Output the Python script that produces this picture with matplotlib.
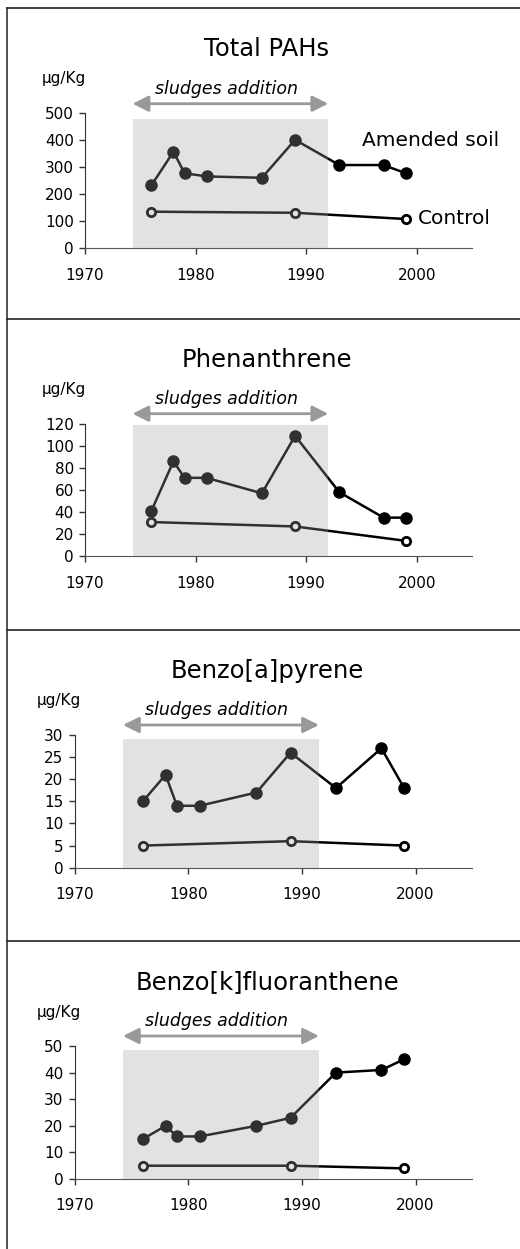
import matplotlib
matplotlib.use("Agg")
import matplotlib.pyplot as plt
from matplotlib.patches import Rectangle
from matplotlib.lines import Line2D

plt.rcParams['font.family'] = ['DejaVu Sans']

W, H = 520, 1249

# data
titles = ['Total PAHs', 'Phenanthrene', 'Benzo[a]pyrene', 'Benzo[k]fluoranthene']
amended_years = [1976, 1978, 1979, 1981, 1986, 1989, 1993, 1997, 1999]
control_years = [1976, 1989, 1999]
amended_vals = [
    [232, 356, 277, 265, 260, 400, 307, 307, 277],
    [41, 86, 71, 71, 57, 109, 58, 35, 35],
    [15, 21, 14, 14, 17, 26, 18, 27, 18],
    [15, 20, 16, 16, 20, 23, 40, 41, 45],
]
control_vals = [
    [135, 131, 108],
    [31, 27, 14],
    [5, 6, 5],
    [5, 5, 4],
]
y_max = [500, 120, 30, 50]
y_step = [100, 20, 5, 10]
shade_top = [478, 118.5, 29.1, 48.5]
shade_span = [(1974.3, 1992.0), (1974.3, 1992.0), (1974.25, 1991.5), (1974.25, 1991.5)]
x_ticks = [1970, 1980, 1990, 2000]

# layout in pixels: (left, right, top, bottom) of each plot area
axes_px = [(85, 472, 112.7, 248.3),
           (85, 472, 423.7, 556.3),
           (74.7, 472.3, 735, 867.7),
           (74.7, 472.3, 1046, 1179)]
panel_top = [8, 319, 630, 941]


def fx(px):
    return px / W


def fy(py):
    return 1 - py / H


fig = plt.figure(figsize=(W / 100, H / 100), dpi=100)

# frame: left and top border plus separators
fig.add_artist(Line2D([fx(6.5), fx(6.5)], [fy(8), 0], color='#333333', lw=1.2))
for py in panel_top:
    fig.add_artist(Line2D([fx(6.5), 1], [fy(py), fy(py)], color='#222222', lw=1.2))

for i in range(4):
    l, r, t, b = axes_px[i]
    ax = fig.add_axes([fx(l), fy(b), fx(r - l), (b - t) / H])
    ax.set_xlim(1970, 2005)
    ax.set_ylim(0, y_max[i])
    ax.set_facecolor('none')

    ax.plot(amended_years, amended_vals[i], color='black', lw=1.8,
            marker='o', ms=8, mfc='black', mec='black', zorder=3, clip_on=False)
    ax.plot(control_years, control_vals[i], color='black', lw=1.8,
            marker='o', ms=6, mfc='white', mec='black', mew=2, zorder=3, clip_on=False)

    # shaded period drawn on top, semi transparent
    x0, x1 = shade_span[i]
    ax.add_patch(Rectangle((x0, 0), x1 - x0, shade_top[i], facecolor='#a2a2a2',
                           alpha=0.3, edgecolor='none', zorder=4, clip_on=False))

    for s in ['top', 'right']:
        ax.spines[s].set_visible(False)
    ax.spines['left'].set_color('#333333')
    ax.spines['bottom'].set_color('#555555')
    ax.spines['left'].set_zorder(5)
    ax.spines['bottom'].set_zorder(5)
    ax.set_xticks(x_ticks)
    ax.set_yticks(range(0, y_max[i] + 1, y_step[i]))
    ax.tick_params(axis='both', direction='out', length=4, width=1,
                   colors='#333333', labelcolor='black', labelsize=11)
    ax.tick_params(axis='x', pad=10)
    ax.tick_params(axis='y', pad=4)

    # sludges addition arrow
    arrow_y = t - 3 - (6 if i == 0 else 7)
    xa = ax.transData.transform((x0, 0))[0]
    xb = ax.transData.transform((x1, 0))[0]
    fig.add_artist(plt.Annotation('', xy=(xa / W, fy(arrow_y)), xycoords='figure fraction',
                                  xytext=(xb / W, fy(arrow_y)), textcoords='figure fraction',
                                  arrowprops=dict(arrowstyle='<|-|>', color='#999999', lw=2,
                                                  mutation_scale=24, shrinkA=0, shrinkB=0)))

    pt = panel_top[i]
    fig.text(fx(267), fy(pt + 41), titles[i], ha='center', va='center', fontsize=17.5)
    ux = 42 if i < 2 else 37
    fig.text(fx(ux), fy(t - 34), '\u00b5g/Kg', ha='left', va='center', fontsize=11)
    fig.text(fx((xa + xb) / 2 - 4), fy(arrow_y - 15), 'sludges addition', ha='center',
             va='center', fontsize=12.5, style='italic')

# series labels on the first panel
fig.text(fx(362), fy(141), 'Amended soil', ha='left', va='center', fontsize=14.5)
fig.text(fx(418), fy(219), 'Control', ha='left', va='center', fontsize=14.5)

fig.savefig('out.png', dpi=100)
